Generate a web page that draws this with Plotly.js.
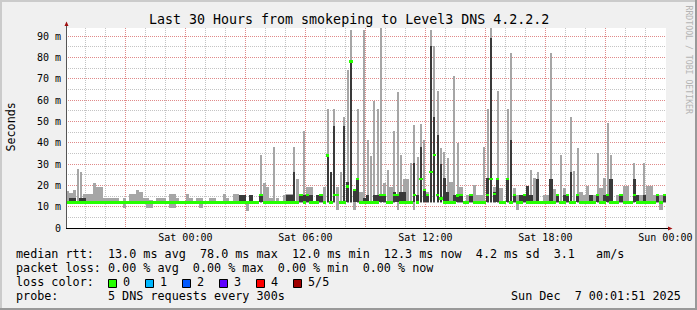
<!DOCTYPE html>
<html><head><meta charset="utf-8">
<script src="https://cdn.plot.ly/plotly-3.0.1.min.js"></script>
<style>html,body{margin:0;padding:0;background:#f0f0f0;overflow:hidden}#chart{width:697px;height:310px}</style>
</head><body><div id="chart"></div>
<script>
// time axis: hours relative to Sat 00:00; window Fri 18:01:51 .. Sun 00:01:51
const START_HOURS = -5.9692;
const END_HOURS = 24.0308;
const BIN_HOURS = 1 / 6; // 10-minute bins

const xTickVals = [-3, 0, 3, 6, 9, 12, 15, 18, 21, 24];
const xTickText = ['', 'Sat 00:00', '', 'Sat 06:00', '', 'Sat 12:00', '', 'Sat 18:00', '', 'Sun 00:00'];
const yTickVals = [0, 10, 20, 30, 40, 50, 60, 70, 80, 90];
const yTickText = ['0', '10 m', '20 m', '30 m', '40 m', '50 m', '60 m', '70 m', '80 m', '90 m'];

// ping distribution per bin (ms): P1 lowest .. P5 highest, MED median
const P5 = [
17.5,16.5,17.9,27.7,26.4,16,16,16,21.3,19,
19.3,14,14,14,14,14,12,14,12,16,
16,18,17,14,14,13,12,14,14,14,
12,16,16,14,12,12,16,14,12,14,
14,12,12,14,14,12,12,15.8,14,12,
15.8,15.8,15.5,15.5,12,15.5,12,12,34.2,21.2,
19.4,14.2,37.8,14,12,15.5,15.8,15.8,37.8,23,
15.5,45.5,19.4,19.4,12,15.5,15.5,19.4,55.8,26.4,
55.8,19.4,26.4,52.2,74,92.8,17.8,56,17,92.8,
41.2,33.9,59.5,55.8,93.6,21,27.2,19.4,45.5,63.6,
34.2,23,23,30.3,48.3,33.4,48.8,41.2,17,92.8,
85.5,64,37.3,35.8,32.7,21.7,71.4,39.7,19.4,12,
15.5,15.5,20,15.5,15.5,38.1,56,93.6,19,64,
18.6,12,56,81.9,18.6,15.5,15.5,15.5,19.8,27.2,
23.6,26.4,12,15.5,15.5,81.9,18.3,15.5,34.2,18.6,
15.5,52.2,26.9,37.7,17,15.5,19.7,15.5,15.5,35,
18.6,23.3,49.4,34.2,12,15.5,15.5,19.7,19.7,12,
30.3,15.5,15.5,30.3,19.7,19.7,15.5,15.5,15.5,15.5];

const P4 = [
12,14,14,12,14,14,12,12,12,12,
12,12,12,12,12,12,12,12,12,12,
12,12,12,12,12,12,12,12,12,12,
12,12,12,12,12,12,12,12,12,12,
12,12,12,12,12,12,12,12,12,12,
12,12,15.5,15.5,12,15.5,12,12,15.5,12,
12,12,12.5,12,12,12,15.5,15.5,26.4,12,
15.5,15.5,15.5,15.5,12,15.5,15.5,12,34.2,26.4,
48,12,12,48,21.7,78.5,17.8,23,12,13.9,
15.5,12,15.5,15.5,15.5,15.5,12,12,17,15.5,
17,17,12,12,30.3,15.5,38,17.8,15.5,85.5,
52,43.6,30,23.3,17,12,15.5,15.5,15.5,12,
12,15.5,12,12,12,12,23.3,89.2,17,23,
12,12,23,41.2,15.5,12,15.5,15.5,19.8,15.5,
12,23,12,12,12,23,12,15.5,12,15.5,
15.5,26.4,12,15.5,12,12,12,15.5,12,15.5,
12,15.5,15.5,23,12,12,15.5,12,12,12,
23,15.5,12,15.5,12,12,12,15.5,12,15.5];

const MED = [
12,12,12,12,12,12,12,12,12,12,
12,12,12,12,12,12,12,12,12,12,
12,12,12,12,12,12,12,12,12,12,
12,12,12,12,12,12,12,12,12,12,
12,12,12,12,12,12,12,12,12,12,
12,12,12,12,12,12,12,12,15.5,12,
12,12,12,12,12,12,12,12,12,12,
15.5,12,15.5,12,12,12,15.5,12,34,12,
15.5,15.5,12,12,19.4,78,17.8,23,12,12,
12,12,12,12,15.5,15.5,12,12,15.5,15.5,
12,12,12,12,15.5,12,23,17.8,15.5,26.4,
34.2,15.5,13.9,12,12,12,12,15.2,15.5,12,
12,15.5,12,12,12,12,15.5,23,16,23,
12,12,23,12,15.5,12,12,15.5,12,12,
12,12,12,12,12,12,12,15.5,12,12,
15.5,12,12,15.5,12,12,12,12,12,15.5,
12,12,15.5,12,12,12,15.5,12,12,12,
15.5,12,12,12,12,12,12,15.5,12,15.5];

const P2 = [
12,12,12,12,12,12,12,12,12,12,12,12,12,12,12,12,12,12,12,12,
12,12,12,12,12,12,12,12,12,12,12,12,12,12,12,12,12,12,12,12,
12,12,12,12,12,12,12,12,12,12,12,12,12,12,12,12,12,12,12,12,
12,12,12,12,12,12,12,12,12,12,12,12,12,12,12,12,12,12,12,12,
12,12,12,12,12,12,12,12,12,12,12,12,12,12,12,12,12,12,12,12,
12,12,12,12,12,12,12,12,12,12,12,12,12,12,12,12,12,12,12,12,
12,12,12,12,12,12,12,12,12,12,12,12,12,12,12,12,12,12,12,12,
12,12,12,12,12,12,12,12,12,12,12,12,12,12,12,12,12,12,12,12,
12,12,12,12,12,12,12,12,12,12,12,12,12,12,12,12,12,12,12,12];

const P1 = [
11.5,11.5,11.5,11.5,11.5,11.5,11.5,11.5,11.5,11.5,
11.5,11.5,11.5,11.5,11.5,11.5,11.5,9.6,11.5,11.5,
11.5,11.5,11.5,11.5,9.5,9.5,11.5,11.5,11.5,11.5,
11.5,9.5,9.5,11.5,11.5,11.5,11.5,11.5,11.5,11.5,
9.5,11.5,11.5,11.5,11.5,11.5,11.5,11.5,11.5,11.5,
11.5,11.5,11.5,11.5,8.2,11.5,11.5,11.5,11.5,11.5,
11.5,11.5,11.5,11.5,11.5,11.5,11.5,11.5,11.5,11.5,
11.5,11.5,11.5,11.5,11.5,11.5,11.5,11.5,11.5,11.5,
11.5,8.4,11.5,11.5,11.5,11.5,8.4,11.5,11.5,11.5,
11.5,11.5,11.5,11.5,11.5,11.5,11.5,11.5,11.5,8.6,
11.5,11.5,11.5,11.5,8.4,11.5,11.5,11.5,11.5,11.5,
11.5,11.5,11.5,11.5,11.5,11.5,11.5,11.5,11.5,11.5,
11.5,11.5,11.5,11.5,11.5,11.5,11.5,11.5,11.5,11.5,
11.5,11.5,11.5,11.5,11.5,8.4,11.5,11.5,11.5,11.5,
11.5,11.5,11.5,11.5,11.5,11.5,11.5,11.5,11.5,11.5,
11.5,11.5,11.5,11.5,11.5,11.5,11.5,11.5,11.5,11.5,
11.5,11.5,11.5,11.5,11.5,11.5,11.5,11.5,11.5,11.5,
11.5,11.5,11.5,11.5,11.5,11.5,11.5,11.5,8.4,11.5];

const lossLabels = ['0', '1', '2', '3', '4', '5/5'];
const lossColors = ['#26ff00', '#00b8ff', '#0059ff', '#5e00ff', '#ff0000', '#a00000'];

const titleText = 'Last 30 Hours from smokeping to Level3 DNS 4.2.2.2';
const legendLines = [
  'median rtt:  13.0 ms avg  78.0 ms max  12.0 ms min  12.3 ms now  4.2 ms sd  3.1   am/s',
  'packet loss: 0.00 % avg  0.00 % max  0.00 % min  0.00 % now',
  'loss color:',
  'probe:       5 DNS requests every 300s'
];
const dateText = 'Sun Dec  7 00:01:51 2025';

// ---------- layout helpers ----------
const L = 66, T = 28, W = 600, H = 200;
const px = x => (x - L) / W;
const py = y => (T + H - y) / H;
const nb = s => s.replace(/ /g, '\u00a0');
const MONO = 'DejaVu Sans Mono, monospace';

const binTimes = P5.map((_, i) => START_HOURS + (i + 0.5) * BIN_HOURS);
const MED_HALF = 0.55;
// tall isolated spikes are single 5-minute samples: draw them half a bin wide
const SPIKE_MS = 24;
const lightW = P5.map(v => v > SPIKE_MS ? BIN_HOURS * 0.55 : BIN_HOURS);
const darkW = P4.map(v => v > SPIKE_MS ? BIN_HOURS * 0.55 : BIN_HOURS);

const traces = [
  { type: 'bar', x: binTimes, base: P1, y: P5.map((v, i) => Math.max(v - P1[i], 0)),
    width: lightW, marker: { color: '#a6a6a6', line: { width: 0 } }, hoverinfo: 'skip' },
  { type: 'bar', x: binTimes, base: P2, y: P4.map((v, i) => Math.max(v - P2[i], 0)),
    width: darkW, marker: { color: '#3a3a3a', line: { width: 0 } }, hoverinfo: 'skip' },
  { type: 'bar', x: binTimes, base: MED.map(v => v - MED_HALF), y: MED.map(() => 2 * MED_HALF),
    width: BIN_HOURS, marker: { color: '#26ff00', line: { width: 0 } }, hoverinfo: 'skip' }
];

const ann = [];
ann.push({ text: titleText, x: px(348.5), y: py(19), xanchor: 'center', yanchor: 'middle',
  font: { family: MONO, size: 13.3, color: '#000' } });
ann.push({ text: 'Seconds', x: px(10.5), y: py(127), textangle: -90, xanchor: 'center', yanchor: 'middle',
  font: { family: MONO, size: 11.7, color: '#000' } });
ann.push({ text: nb('RRDTOOL / TOBI OETIKER'), x: px(688.5), y: py(60), textangle: 90, xanchor: 'center', yanchor: 'middle',
  font: { family: MONO, size: 8.2, color: '#b4b4b4' } });
const legY = [254, 268, 282, 296];
legendLines.forEach((s, i) => ann.push({ text: nb(s), x: px(15.4), y: py(legY[i]), xanchor: 'left', yanchor: 'middle',
  font: { family: MONO, size: 11.75, color: '#000' } }));
ann.push({ text: nb(dateText), x: px(681.5), y: py(296), xanchor: 'right', yanchor: 'middle',
  font: { family: MONO, size: 11.75, color: '#000' } });
lossLabels.forEach((s, k) => ann.push({ text: s, x: px(122.3 + k * 37), y: py(282), xanchor: 'left', yanchor: 'middle',
  font: { family: MONO, size: 11.75, color: '#000' } }));
ann.forEach(a => { a.xref = 'paper'; a.yref = 'paper'; a.showarrow = false; a.borderpad = 0; });

const shapes = [];
const rectPx = (x0, y0, x1, y1, fill, line) => shapes.push({ type: 'rect', xref: 'paper', yref: 'paper',
  x0: px(x0), x1: px(x1), y0: py(y1), y1: py(y0), fillcolor: fill, line: line || { width: 0 }, layer: 'above' });
// 3D frame
rectPx(0, 0, 697, 2, '#cbcbcb');
rectPx(0, 0, 2, 310, '#cbcbcb');
rectPx(695, 0, 697, 310, '#999999');
rectPx(0, 308, 697, 310, '#999999');
// axes
shapes.push({ type: 'line', xref: 'paper', yref: 'paper', x0: px(66.5), x1: px(66.5), y0: py(228), y1: py(25),
  line: { color: '#555555', width: 1 } });
shapes.push({ type: 'line', xref: 'paper', yref: 'paper', x0: px(66), x1: px(668), y0: py(228.5), y1: py(228.5),
  line: { color: '#000000', width: 1 } });
const pathPx = pts => 'M' + pts.map(p => px(p[0]) + ',' + py(p[1])).join(' L') + ' Z';
shapes.push({ type: 'path', xref: 'paper', yref: 'paper', path: pathPx([[64.5, 26], [68.5, 26], [66.5, 21.5]]),
  fillcolor: '#a01010', line: { width: 0 } });
shapes.push({ type: 'path', xref: 'paper', yref: 'paper', path: pathPx([[668, 226.5], [668, 230.5], [672.5, 228.5]]),
  fillcolor: '#a01010', line: { width: 0 } });
// loss colour boxes
lossColors.forEach((c, k) => rectPx(108.5 + k * 37, 279.5, 116.5 + k * 37, 287.5, c, { color: '#000', width: 1 }));

const layout = {
  width: 697, height: 310,
  margin: { l: L, r: 697 - L - W, t: T, b: 310 - T - H, pad: 0 },
  paper_bgcolor: '#f0f0f0', plot_bgcolor: '#ffffff',
  showlegend: false, barmode: 'overlay', bargap: 0,
  xaxis: {
    range: [START_HOURS, END_HOURS], tickmode: 'array', tickvals: xTickVals, ticktext: xTickText,
    showgrid: true, gridcolor: '#e08a8a', gridwidth: 1, griddash: '1px,1px',
    minor: { dtick: 1, tick0: 0, showgrid: true, gridcolor: '#c4c4c4', gridwidth: 1, griddash: '1px,1px' },
    ticks: '', zeroline: false, showline: false, fixedrange: true, ticklabelstandoff: 2,
    tickfont: { family: MONO, size: 10, color: '#000' }
  },
  yaxis: {
    range: [0, 93.75], tickmode: 'array', tickvals: yTickVals, ticktext: yTickText,
    showgrid: true, gridcolor: '#e08a8a', gridwidth: 1, griddash: '1px,1px',
    minor: { dtick: 5, tick0: 0, showgrid: true, gridcolor: '#c4c4c4', gridwidth: 1, griddash: '1px,1px' },
    ticks: '', zeroline: false, showline: false, fixedrange: true, ticklabelstandoff: 4,
    tickfont: { family: MONO, size: 10, color: '#000' }
  },
  annotations: ann,
  shapes: shapes
};

Plotly.newPlot('chart', traces, layout, { staticPlot: true, displayModeBar: false });
</script></body></html>
